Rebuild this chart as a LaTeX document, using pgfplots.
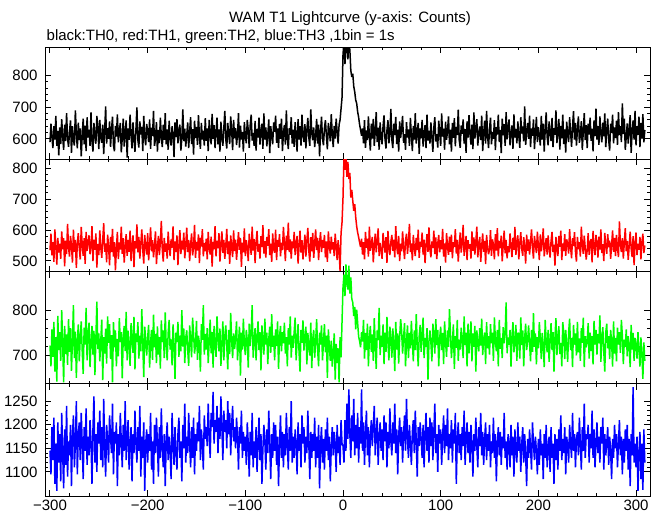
\documentclass[border=0pt]{standalone}
\usepackage{fontspec}
\setmainfont{Liberation Sans}
\usepackage{pgfplots}
\pgfplotsset{compat=1.18}
\usepackage{pgfplotstable}

% TH0 (black), 1 s bins, t = -300 ... 309
\pgfplotstableread[row sep=\\,header=false]{
590\\ 648\\ 605\\ 571\\ 640\\ 598\\ 672\\ 578\\ 625\\ 548\\
636\\ 584\\ 662\\ 607\\ 566\\ 645\\ 593\\ 681\\ 601\\ 575\\
622\\ 658\\ 556\\ 640\\ 597\\ 579\\ 690\\ 618\\ 570\\ 651\\
596\\ 633\\ 545\\ 611\\ 664\\ 583\\ 642\\ 562\\ 668\\ 604\\
629\\ 578\\ 683\\ 592\\ 560\\ 650\\ 610\\ 585\\ 672\\ 637\\
568\\ 660\\ 604\\ 588\\ 645\\ 552\\ 626\\ 702\\ 585\\ 634\\
600\\ 655\\ 575\\ 628\\ 670\\ 580\\ 561\\ 641\\ 607\\ 677\\
589\\ 624\\ 650\\ 558\\ 603\\ 664\\ 576\\ 620\\ 658\\ 541\\
633\\ 597\\ 676\\ 610\\ 570\\ 652\\ 601\\ 559\\ 630\\ 699\\
596\\ 573\\ 655\\ 614\\ 638\\ 562\\ 672\\ 606\\ 580\\ 647\\
624\\ 590\\ 661\\ 569\\ 635\\ 609\\ 688\\ 578\\ 600\\ 653\\
560\\ 628\\ 587\\ 667\\ 608\\ 574\\ 645\\ 597\\ 681\\ 583\\
630\\ 566\\ 657\\ 601\\ 579\\ 640\\ 614\\ 543\\ 652\\ 606\\
662\\ 586\\ 625\\ 645\\ 563\\ 602\\ 693\\ 593\\ 632\\ 576\\
611\\ 652\\ 571\\ 624\\ 668\\ 584\\ 631\\ 551\\ 657\\ 603\\
638\\ 581\\ 675\\ 607\\ 569\\ 650\\ 598\\ 626\\ 579\\ 665\\
594\\ 633\\ 562\\ 660\\ 612\\ 583\\ 679\\ 600\\ 643\\ 571\\
620\\ 667\\ 583\\ 630\\ 560\\ 654\\ 606\\ 578\\ 636\\ 688\\
598\\ 570\\ 650\\ 614\\ 584\\ 671\\ 627\\ 565\\ 660\\ 602\\
634\\ 581\\ 613\\ 681\\ 573\\ 642\\ 598\\ 622\\ 560\\ 653\\
610\\ 586\\ 660\\ 627\\ 572\\ 644\\ 676\\ 595\\ 619\\ 578\\
657\\ 563\\ 631\\ 604\\ 667\\ 582\\ 624\\ 648\\ 569\\ 680\\
598\\ 636\\ 577\\ 612\\ 661\\ 555\\ 640\\ 608\\ 583\\ 652\\
622\\ 673\\ 588\\ 633\\ 572\\ 647\\ 600\\ 664\\ 562\\ 617\\
644\\ 582\\ 690\\ 603\\ 568\\ 634\\ 613\\ 668\\ 585\\ 629\\
575\\ 653\\ 609\\ 560\\ 662\\ 598\\ 640\\ 579\\ 676\\ 612\\
590\\ 646\\ 570\\ 627\\ 666\\ 604\\ 578\\ 693\\ 619\\ 596\\
636\\ 574\\ 611\\ 663\\ 585\\ 645\\ 545\\ 623\\ 670\\ 600\\
580\\ 634\\ 659\\ 609\\ 567\\ 650\\ 626\\ 592\\ 678\\ 613\\
574\\ 641\\ 601\\ 664\\ 622\\ 585\\ 645\\ 660\\ 695\\ 730\\
865\\ 905\\ 835\\ 900\\ 895\\ 850\\ 905\\ 880\\ 815\\ 795\\
805\\ 765\\ 748\\ 722\\ 712\\ 685\\ 668\\ 645\\ 628\\ 610\\
633\\ 586\\ 659\\ 572\\ 627\\ 596\\ 671\\ 608\\ 563\\ 648\\
601\\ 663\\ 578\\ 622\\ 684\\ 590\\ 635\\ 566\\ 652\\ 606\\
583\\ 640\\ 674\\ 600\\ 570\\ 628\\ 659\\ 586\\ 617\\ 694\\
597\\ 571\\ 648\\ 612\\ 669\\ 584\\ 629\\ 560\\ 655\\ 603\\
634\\ 672\\ 588\\ 615\\ 566\\ 653\\ 604\\ 630\\ 578\\ 666\\
611\\ 562\\ 641\\ 598\\ 681\\ 585\\ 623\\ 650\\ 553\\ 633\\
602\\ 660\\ 576\\ 617\\ 643\\ 571\\ 676\\ 595\\ 626\\ 585\\
652\\ 606\\ 559\\ 636\\ 668\\ 592\\ 615\\ 573\\ 657\\ 620\\
578\\ 680\\ 607\\ 632\\ 566\\ 654\\ 597\\ 624\\ 671\\ 583\\
629\\ 560\\ 650\\ 603\\ 665\\ 577\\ 638\\ 612\\ 692\\ 596\\
572\\ 642\\ 616\\ 661\\ 585\\ 631\\ 556\\ 655\\ 604\\ 675\\
614\\ 582\\ 645\\ 568\\ 683\\ 601\\ 630\\ 662\\ 579\\ 621\\
639\\ 596\\ 673\\ 562\\ 617\\ 657\\ 585\\ 688\\ 610\\ 571\\
631\\ 667\\ 583\\ 622\\ 600\\ 659\\ 565\\ 637\\ 614\\ 676\\
590\\ 628\\ 555\\ 664\\ 611\\ 646\\ 578\\ 684\\ 599\\ 633\\
661\\ 580\\ 620\\ 642\\ 569\\ 677\\ 604\\ 631\\ 586\\ 655\\
609\\ 572\\ 668\\ 617\\ 639\\ 592\\ 702\\ 581\\ 624\\ 650\\
600\\ 673\\ 574\\ 633\\ 610\\ 661\\ 568\\ 619\\ 669\\ 590\\
637\\ 612\\ 579\\ 672\\ 598\\ 648\\ 560\\ 628\\ 683\\ 605\\
580\\ 655\\ 620\\ 593\\ 666\\ 574\\ 634\\ 613\\ 690\\ 587\\
622\\ 663\\ 566\\ 641\\ 602\\ 676\\ 584\\ 630\\ 557\\ 654\\
612\\ 590\\ 668\\ 621\\ 575\\ 639\\ 687\\ 598\\ 650\\ 579\\
630\\ 671\\ 588\\ 611\\ 656\\ 566\\ 624\\ 681\\ 596\\ 643\\
571\\ 648\\ 614\\ 667\\ 594\\ 632\\ 561\\ 658\\ 609\\ 695\\
598\\ 640\\ 581\\ 671\\ 616\\ 589\\ 651\\ 608\\ 680\\ 574\\
627\\ 664\\ 597\\ 563\\ 648\\ 619\\ 676\\ 586\\ 636\\ 603\\
657\\ 581\\ 684\\ 612\\ 640\\ 590\\ 712\\ 615\\ 664\\ 566\\
608\\ 649\\ 585\\ 632\\ 675\\ 556\\ 624\\ 658\\ 598\\ 688\\
580\\ 640\\ 613\\ 670\\ 574\\ 650\\ 601\\ 678\\ 589\\ 628\\
}\thzero

% TH1 (red)
\pgfplotstableread[row sep=\\,header=false]{
535\\ 588\\ 518\\ 561\\ 497\\ 602\\ 546\\ 488\\ 575\\ 527\\
556\\ 507\\ 596\\ 538\\ 574\\ 483\\ 566\\ 522\\ 620\\ 544\\
514\\ 581\\ 551\\ 495\\ 601\\ 530\\ 568\\ 478\\ 557\\ 590\\
541\\ 505\\ 610\\ 553\\ 517\\ 574\\ 491\\ 594\\ 533\\ 560\\
583\\ 522\\ 547\\ 613\\ 500\\ 569\\ 536\\ 589\\ 479\\ 555\\
519\\ 599\\ 544\\ 510\\ 567\\ 622\\ 530\\ 557\\ 496\\ 585\\
548\\ 486\\ 578\\ 529\\ 604\\ 514\\ 561\\ 470\\ 540\\ 594\\
506\\ 560\\ 537\\ 611\\ 523\\ 574\\ 495\\ 549\\ 587\\ 517\\
568\\ 530\\ 598\\ 500\\ 552\\ 583\\ 480\\ 564\\ 540\\ 618\\
528\\ 578\\ 508\\ 556\\ 602\\ 536\\ 492\\ 584\\ 546\\ 521\\
590\\ 502\\ 553\\ 609\\ 531\\ 567\\ 512\\ 548\\ 596\\ 490\\
542\\ 581\\ 519\\ 560\\ 630\\ 535\\ 498\\ 575\\ 530\\ 557\\
508\\ 595\\ 547\\ 516\\ 570\\ 543\\ 612\\ 503\\ 563\\ 529\\
583\\ 487\\ 551\\ 600\\ 522\\ 566\\ 537\\ 592\\ 509\\ 549\\
608\\ 529\\ 568\\ 500\\ 553\\ 589\\ 518\\ 544\\ 617\\ 510\\
562\\ 534\\ 586\\ 493\\ 575\\ 547\\ 603\\ 515\\ 558\\ 531\\
572\\ 505\\ 594\\ 543\\ 521\\ 579\\ 482\\ 562\\ 538\\ 613\\
515\\ 565\\ 542\\ 590\\ 498\\ 554\\ 596\\ 526\\ 568\\ 507\\
549\\ 604\\ 522\\ 563\\ 491\\ 583\\ 544\\ 513\\ 599\\ 532\\
569\\ 504\\ 548\\ 593\\ 536\\ 575\\ 481\\ 559\\ 528\\ 605\\
516\\ 567\\ 543\\ 500\\ 588\\ 551\\ 520\\ 611\\ 534\\ 571\\
493\\ 561\\ 597\\ 530\\ 555\\ 508\\ 580\\ 545\\ 616\\ 524\\
564\\ 511\\ 578\\ 549\\ 603\\ 519\\ 556\\ 497\\ 589\\ 538\\
527\\ 601\\ 503\\ 568\\ 546\\ 587\\ 515\\ 559\\ 535\\ 610\\
555\\ 500\\ 582\\ 536\\ 624\\ 529\\ 570\\ 508\\ 563\\ 541\\
594\\ 519\\ 556\\ 581\\ 492\\ 548\\ 598\\ 527\\ 567\\ 505\\
546\\ 585\\ 514\\ 564\\ 607\\ 533\\ 498\\ 577\\ 531\\ 591\\
510\\ 557\\ 602\\ 535\\ 575\\ 503\\ 559\\ 593\\ 529\\ 568\\
543\\ 584\\ 512\\ 563\\ 497\\ 596\\ 549\\ 524\\ 579\\ 537\\
561\\ 516\\ 588\\ 547\\ 503\\ 567\\ 530\\ 468\\ 590\\ 625\\
705\\ 838\\ 795\\ 845\\ 772\\ 820\\ 765\\ 785\\ 705\\ 730\\
695\\ 662\\ 684\\ 642\\ 612\\ 592\\ 577\\ 560\\ 545\\ 572\\
521\\ 561\\ 505\\ 594\\ 543\\ 572\\ 514\\ 611\\ 533\\ 556\\
578\\ 496\\ 549\\ 588\\ 528\\ 567\\ 605\\ 516\\ 558\\ 536\\
507\\ 591\\ 555\\ 527\\ 577\\ 494\\ 597\\ 544\\ 519\\ 562\\
584\\ 533\\ 569\\ 512\\ 613\\ 547\\ 522\\ 581\\ 500\\ 556\\
531\\ 596\\ 545\\ 506\\ 567\\ 588\\ 523\\ 561\\ 620\\ 529\\
557\\ 502\\ 584\\ 540\\ 516\\ 575\\ 535\\ 601\\ 510\\ 562\\
545\\ 592\\ 521\\ 569\\ 493\\ 550\\ 587\\ 530\\ 609\\ 537\\
512\\ 563\\ 542\\ 598\\ 522\\ 576\\ 506\\ 556\\ 584\\ 528\\
567\\ 538\\ 604\\ 514\\ 557\\ 495\\ 590\\ 546\\ 520\\ 579\\
530\\ 585\\ 509\\ 561\\ 545\\ 603\\ 524\\ 568\\ 498\\ 551\\
592\\ 527\\ 556\\ 617\\ 517\\ 548\\ 581\\ 503\\ 567\\ 540\\
554\\ 508\\ 596\\ 533\\ 576\\ 521\\ 562\\ 611\\ 512\\ 550\\
578\\ 497\\ 548\\ 589\\ 530\\ 565\\ 490\\ 584\\ 545\\ 522\\
537\\ 600\\ 517\\ 570\\ 553\\ 505\\ 587\\ 534\\ 606\\ 515\\
565\\ 542\\ 582\\ 499\\ 552\\ 598\\ 525\\ 568\\ 509\\ 548\\
528\\ 589\\ 549\\ 513\\ 575\\ 536\\ 610\\ 520\\ 559\\ 583\\
505\\ 556\\ 593\\ 538\\ 517\\ 577\\ 547\\ 492\\ 585\\ 533\\
570\\ 521\\ 561\\ 602\\ 542\\ 508\\ 581\\ 552\\ 526\\ 595\\
549\\ 503\\ 586\\ 531\\ 559\\ 605\\ 515\\ 546\\ 574\\ 521\\
583\\ 541\\ 511\\ 564\\ 594\\ 529\\ 553\\ 485\\ 578\\ 538\\
516\\ 581\\ 546\\ 598\\ 503\\ 557\\ 532\\ 587\\ 517\\ 570\\
556\\ 524\\ 603\\ 544\\ 509\\ 574\\ 548\\ 593\\ 530\\ 498\\
578\\ 538\\ 561\\ 514\\ 611\\ 550\\ 523\\ 582\\ 541\\ 505\\
535\\ 590\\ 520\\ 558\\ 571\\ 496\\ 597\\ 546\\ 519\\ 584\\
560\\ 511\\ 579\\ 537\\ 602\\ 526\\ 554\\ 500\\ 591\\ 547\\
523\\ 587\\ 544\\ 566\\ 507\\ 551\\ 599\\ 530\\ 575\\ 516\\
584\\ 541\\ 513\\ 628\\ 553\\ 529\\ 574\\ 508\\ 560\\ 606\\
531\\ 565\\ 504\\ 549\\ 595\\ 540\\ 513\\ 580\\ 487\\ 556\\
592\\ 519\\ 555\\ 536\\ 578\\ 505\\ 561\\ 588\\ 526\\ 550\\
}\thone

% TH2 (green)
\pgfplotstableread[row sep=\\,header=false]{
722\\ 676\\ 758\\ 697\\ 775\\ 664\\ 741\\ 642\\ 788\\ 712\\
752\\ 688\\ 801\\ 725\\ 640\\ 766\\ 703\\ 747\\ 679\\ 781\\
708\\ 761\\ 666\\ 734\\ 812\\ 694\\ 753\\ 650\\ 731\\ 769\\
687\\ 740\\ 776\\ 711\\ 659\\ 762\\ 724\\ 806\\ 689\\ 745\\
773\\ 674\\ 728\\ 766\\ 702\\ 755\\ 656\\ 737\\ 820\\ 714\\
749\\ 687\\ 731\\ 780\\ 645\\ 741\\ 704\\ 760\\ 682\\ 787\\
728\\ 770\\ 692\\ 745\\ 640\\ 774\\ 718\\ 756\\ 676\\ 737\\
698\\ 783\\ 730\\ 752\\ 649\\ 740\\ 766\\ 710\\ 797\\ 689\\
755\\ 721\\ 677\\ 772\\ 739\\ 706\\ 786\\ 669\\ 749\\ 730\\
774\\ 693\\ 744\\ 709\\ 803\\ 727\\ 652\\ 764\\ 735\\ 700\\
740\\ 768\\ 673\\ 729\\ 757\\ 690\\ 791\\ 718\\ 748\\ 683\\
765\\ 702\\ 741\\ 671\\ 778\\ 730\\ 756\\ 694\\ 796\\ 721\\
689\\ 750\\ 779\\ 713\\ 736\\ 678\\ 769\\ 726\\ 648\\ 751\\
730\\ 775\\ 697\\ 744\\ 709\\ 801\\ 720\\ 760\\ 683\\ 739\\
756\\ 713\\ 677\\ 767\\ 733\\ 696\\ 784\\ 749\\ 704\\ 725\\
777\\ 690\\ 744\\ 726\\ 664\\ 770\\ 735\\ 812\\ 702\\ 748\\
713\\ 761\\ 683\\ 732\\ 780\\ 705\\ 752\\ 673\\ 766\\ 727\\
697\\ 787\\ 739\\ 709\\ 760\\ 677\\ 728\\ 776\\ 689\\ 743\\
767\\ 721\\ 669\\ 757\\ 703\\ 795\\ 733\\ 694\\ 749\\ 714\\
740\\ 776\\ 689\\ 729\\ 764\\ 655\\ 751\\ 713\\ 782\\ 725\\
701\\ 757\\ 733\\ 673\\ 771\\ 721\\ 749\\ 812\\ 695\\ 736\\
761\\ 689\\ 740\\ 776\\ 712\\ 752\\ 667\\ 767\\ 729\\ 702\\
782\\ 724\\ 751\\ 681\\ 737\\ 764\\ 706\\ 792\\ 719\\ 744\\
689\\ 758\\ 721\\ 776\\ 670\\ 740\\ 766\\ 709\\ 752\\ 727\\
773\\ 704\\ 741\\ 676\\ 761\\ 724\\ 787\\ 695\\ 744\\ 717\\
753\\ 784\\ 689\\ 731\\ 770\\ 708\\ 664\\ 757\\ 728\\ 778\\
711\\ 740\\ 764\\ 680\\ 750\\ 721\\ 700\\ 773\\ 672\\ 736\\
757\\ 695\\ 730\\ 781\\ 713\\ 676\\ 751\\ 724\\ 767\\ 689\\
729\\ 770\\ 707\\ 744\\ 650\\ 758\\ 721\\ 688\\ 733\\ 675\\
703\\ 749\\ 646\\ 726\\ 683\\ 716\\ 640\\ 741\\ 696\\ 775\\
852\\ 880\\ 832\\ 903\\ 862\\ 847\\ 900\\ 838\\ 874\\ 826\\
818\\ 788\\ 808\\ 758\\ 802\\ 772\\ 742\\ 732\\ 718\\ 752\\
731\\ 779\\ 693\\ 750\\ 712\\ 771\\ 676\\ 740\\ 766\\ 708\\
747\\ 688\\ 783\\ 724\\ 670\\ 756\\ 734\\ 806\\ 701\\ 744\\
719\\ 769\\ 681\\ 751\\ 708\\ 786\\ 729\\ 689\\ 764\\ 738\\
695\\ 760\\ 724\\ 665\\ 775\\ 713\\ 749\\ 682\\ 740\\ 781\\
755\\ 704\\ 739\\ 772\\ 676\\ 729\\ 767\\ 694\\ 750\\ 716\\
777\\ 730\\ 687\\ 756\\ 712\\ 792\\ 724\\ 676\\ 743\\ 768\\
708\\ 748\\ 784\\ 694\\ 739\\ 719\\ 761\\ 646\\ 732\\ 756\\
728\\ 687\\ 771\\ 747\\ 704\\ 781\\ 723\\ 757\\ 676\\ 739\\
764\\ 712\\ 750\\ 681\\ 776\\ 731\\ 697\\ 756\\ 719\\ 803\\
748\\ 694\\ 729\\ 769\\ 670\\ 743\\ 717\\ 779\\ 688\\ 735\\
713\\ 762\\ 732\\ 694\\ 787\\ 723\\ 751\\ 676\\ 771\\ 705\\
739\\ 776\\ 687\\ 749\\ 719\\ 766\\ 664\\ 756\\ 728\\ 709\\
761\\ 722\\ 782\\ 701\\ 737\\ 751\\ 681\\ 774\\ 716\\ 743\\
702\\ 770\\ 727\\ 751\\ 688\\ 785\\ 734\\ 709\\ 757\\ 676\\
779\\ 715\\ 739\\ 694\\ 763\\ 727\\ 748\\ 818\\ 705\\ 740\\
724\\ 757\\ 675\\ 743\\ 774\\ 707\\ 731\\ 768\\ 688\\ 750\\
749\\ 693\\ 785\\ 723\\ 756\\ 676\\ 739\\ 771\\ 712\\ 731\\
767\\ 727\\ 687\\ 757\\ 708\\ 794\\ 719\\ 749\\ 680\\ 741\\
716\\ 774\\ 738\\ 692\\ 750\\ 723\\ 674\\ 779\\ 731\\ 707\\
757\\ 686\\ 731\\ 772\\ 712\\ 752\\ 664\\ 740\\ 783\\ 701\\
738\\ 765\\ 703\\ 728\\ 676\\ 774\\ 749\\ 692\\ 757\\ 723\\
686\\ 751\\ 782\\ 712\\ 739\\ 674\\ 768\\ 724\\ 749\\ 700\\
775\\ 707\\ 738\\ 688\\ 761\\ 728\\ 784\\ 674\\ 743\\ 718\\
731\\ 772\\ 693\\ 751\\ 710\\ 743\\ 680\\ 777\\ 724\\ 757\\
702\\ 748\\ 727\\ 789\\ 686\\ 739\\ 763\\ 708\\ 664\\ 751\\
771\\ 716\\ 743\\ 692\\ 757\\ 730\\ 675\\ 776\\ 704\\ 739\\
687\\ 762\\ 724\\ 752\\ 706\\ 779\\ 744\\ 681\\ 735\\ 719\\
758\\ 698\\ 743\\ 724\\ 674\\ 768\\ 713\\ 750\\ 688\\ 739\\
724\\ 693\\ 752\\ 712\\ 675\\ 740\\ 703\\ 648\\ 729\\ 688\\
}\thtwo

% TH3 (blue)
\pgfplotstableread[row sep=\\,header=false]{
1145\\ 1095\\ 1195\\ 1125\\ 1215\\ 1075\\ 1160\\ 1060\\ 1205\\ 1120\\
1180\\ 1080\\ 1225\\ 1140\\ 1065\\ 1190\\ 1115\\ 1240\\ 1090\\ 1165\\
1135\\ 1200\\ 1070\\ 1175\\ 1220\\ 1110\\ 1160\\ 1250\\ 1095\\ 1180\\
1205\\ 1125\\ 1225\\ 1160\\ 1085\\ 1195\\ 1145\\ 1235\\ 1115\\ 1175\\
1135\\ 1210\\ 1165\\ 1075\\ 1190\\ 1260\\ 1120\\ 1180\\ 1100\\ 1205\\
1160\\ 1230\\ 1125\\ 1195\\ 1110\\ 1255\\ 1150\\ 1090\\ 1200\\ 1165\\
1120\\ 1220\\ 1175\\ 1140\\ 1245\\ 1095\\ 1185\\ 1160\\ 1205\\ 1070\\
1180\\ 1135\\ 1225\\ 1165\\ 1110\\ 1200\\ 1145\\ 1250\\ 1125\\ 1175\\
1210\\ 1105\\ 1160\\ 1195\\ 1080\\ 1180\\ 1140\\ 1230\\ 1160\\ 1120\\
1195\\ 1145\\ 1240\\ 1090\\ 1175\\ 1130\\ 1205\\ 1060\\ 1160\\ 1190\\
1120\\ 1180\\ 1145\\ 1225\\ 1105\\ 1165\\ 1075\\ 1200\\ 1140\\ 1215\\
1160\\ 1090\\ 1195\\ 1130\\ 1235\\ 1150\\ 1110\\ 1180\\ 1070\\ 1165\\
1205\\ 1125\\ 1175\\ 1145\\ 1085\\ 1225\\ 1160\\ 1115\\ 1195\\ 1140\\
1105\\ 1180\\ 1215\\ 1130\\ 1165\\ 1080\\ 1200\\ 1150\\ 1245\\ 1120\\
1175\\ 1140\\ 1225\\ 1160\\ 1110\\ 1195\\ 1130\\ 1215\\ 1095\\ 1180\\
1145\\ 1205\\ 1165\\ 1240\\ 1125\\ 1190\\ 1160\\ 1105\\ 1220\\ 1170\\
1195\\ 1155\\ 1245\\ 1180\\ 1130\\ 1225\\ 1195\\ 1270\\ 1160\\ 1210\\
1185\\ 1240\\ 1140\\ 1215\\ 1170\\ 1260\\ 1195\\ 1125\\ 1230\\ 1185\\
1210\\ 1150\\ 1250\\ 1180\\ 1225\\ 1135\\ 1200\\ 1240\\ 1165\\ 1195\\
1150\\ 1215\\ 1175\\ 1105\\ 1195\\ 1160\\ 1230\\ 1130\\ 1185\\ 1145\\
1175\\ 1115\\ 1205\\ 1160\\ 1090\\ 1185\\ 1135\\ 1225\\ 1110\\ 1165\\
1130\\ 1195\\ 1100\\ 1160\\ 1215\\ 1125\\ 1180\\ 1075\\ 1150\\ 1200\\
1165\\ 1105\\ 1190\\ 1140\\ 1230\\ 1160\\ 1085\\ 1180\\ 1130\\ 1205\\
1145\\ 1200\\ 1115\\ 1175\\ 1070\\ 1160\\ 1220\\ 1130\\ 1185\\ 1110\\
1180\\ 1135\\ 1225\\ 1160\\ 1105\\ 1195\\ 1145\\ 1250\\ 1120\\ 1175\\
1130\\ 1190\\ 1160\\ 1095\\ 1205\\ 1145\\ 1180\\ 1110\\ 1220\\ 1160\\
1195\\ 1120\\ 1175\\ 1140\\ 1230\\ 1160\\ 1085\\ 1185\\ 1130\\ 1180\\
1145\\ 1215\\ 1110\\ 1175\\ 1130\\ 1200\\ 1065\\ 1160\\ 1195\\ 1120\\
1170\\ 1105\\ 1190\\ 1145\\ 1215\\ 1125\\ 1175\\ 1080\\ 1155\\ 1195\\
1135\\ 1185\\ 1160\\ 1100\\ 1200\\ 1140\\ 1175\\ 1115\\ 1210\\ 1160\\
1155\\ 1120\\ 1210\\ 1145\\ 1245\\ 1170\\ 1275\\ 1180\\ 1130\\ 1220\\
1165\\ 1255\\ 1135\\ 1200\\ 1150\\ 1225\\ 1120\\ 1195\\ 1160\\ 1275\\
1145\\ 1205\\ 1115\\ 1185\\ 1230\\ 1135\\ 1195\\ 1110\\ 1175\\ 1210\\
1155\\ 1195\\ 1240\\ 1135\\ 1185\\ 1215\\ 1115\\ 1175\\ 1205\\ 1145\\
1190\\ 1125\\ 1220\\ 1165\\ 1205\\ 1110\\ 1185\\ 1150\\ 1235\\ 1165\\
1135\\ 1205\\ 1160\\ 1245\\ 1140\\ 1190\\ 1095\\ 1175\\ 1215\\ 1155\\
1195\\ 1120\\ 1180\\ 1220\\ 1145\\ 1255\\ 1170\\ 1130\\ 1200\\ 1160\\
1115\\ 1185\\ 1210\\ 1140\\ 1230\\ 1165\\ 1090\\ 1195\\ 1155\\ 1205\\
1170\\ 1130\\ 1200\\ 1110\\ 1180\\ 1225\\ 1145\\ 1195\\ 1120\\ 1215\\
1155\\ 1205\\ 1125\\ 1185\\ 1245\\ 1140\\ 1180\\ 1100\\ 1200\\ 1160\\
1190\\ 1115\\ 1175\\ 1220\\ 1140\\ 1200\\ 1155\\ 1235\\ 1125\\ 1180\\
1150\\ 1210\\ 1120\\ 1190\\ 1160\\ 1225\\ 1075\\ 1170\\ 1205\\ 1140\\
1180\\ 1125\\ 1195\\ 1155\\ 1230\\ 1115\\ 1170\\ 1205\\ 1140\\ 1185\\
1120\\ 1200\\ 1160\\ 1090\\ 1180\\ 1145\\ 1215\\ 1155\\ 1110\\ 1195\\
1155\\ 1225\\ 1135\\ 1185\\ 1115\\ 1170\\ 1205\\ 1125\\ 1180\\ 1145\\
1200\\ 1110\\ 1165\\ 1140\\ 1215\\ 1130\\ 1180\\ 1080\\ 1160\\ 1195\\
1135\\ 1185\\ 1115\\ 1175\\ 1150\\ 1225\\ 1130\\ 1165\\ 1105\\ 1180\\
1160\\ 1110\\ 1200\\ 1135\\ 1175\\ 1090\\ 1190\\ 1145\\ 1120\\ 1205\\
1145\\ 1175\\ 1100\\ 1160\\ 1195\\ 1120\\ 1180\\ 1135\\ 1070\\ 1170\\
1130\\ 1190\\ 1150\\ 1105\\ 1205\\ 1160\\ 1125\\ 1175\\ 1145\\ 1095\\
1170\\ 1115\\ 1190\\ 1135\\ 1160\\ 1085\\ 1180\\ 1130\\ 1200\\ 1110\\
1150\\ 1175\\ 1100\\ 1195\\ 1130\\ 1160\\ 1075\\ 1180\\ 1125\\ 1170\\
1105\\ 1190\\ 1145\\ 1220\\ 1125\\ 1170\\ 1140\\ 1195\\ 1095\\ 1175\\
1155\\ 1120\\ 1200\\ 1160\\ 1130\\ 1225\\ 1145\\ 1180\\ 1110\\ 1170\\
1185\\ 1135\\ 1215\\ 1160\\ 1105\\ 1195\\ 1145\\ 1245\\ 1130\\ 1180\\
1170\\ 1200\\ 1120\\ 1180\\ 1150\\ 1230\\ 1130\\ 1190\\ 1110\\ 1160\\
1205\\ 1140\\ 1175\\ 1120\\ 1195\\ 1160\\ 1215\\ 1105\\ 1180\\ 1135\\
1160\\ 1195\\ 1115\\ 1175\\ 1145\\ 1085\\ 1170\\ 1130\\ 1200\\ 1150\\
1180\\ 1110\\ 1160\\ 1210\\ 1135\\ 1175\\ 1095\\ 1170\\ 1120\\ 1190\\
1145\\ 1200\\ 1105\\ 1170\\ 1070\\ 1180\\ 1135\\ 1280\\ 1120\\ 1160\\
1110\\ 1175\\ 1060\\ 1140\\ 1185\\ 1085\\ 1160\\ 1062\\ 1190\\ 1120\\
}\ththree

\pgfplotsset{
  panel/.style={
    scale only axis,
    width=605pt, height=112.25pt,
    anchor=north west,
    xmin=-305.1, xmax=314.3,
    xtick={-300,-200,-100,0,100,200,300},
    minor x tick num=4,
    minor y tick num=4,
    xticklabels={},
    tick align=inside,
    major tick length=6pt,
    minor tick length=3pt,
    every tick/.style={black, line width=1pt},
    axis line style={line width=0.9pt},
    tick label style={font=\fontsize{15}{15}\selectfont},
    yticklabel style={xshift=-4pt},
    /pgf/number format/assume math mode=true,
    /pgf/number format/1000 sep={},
    clip=true,
  },
  curve/.style={line width=1.5pt, mark=none, line join=bevel},
}

\begin{document}
\begin{tikzpicture}
\useasboundingbox (0,0) rectangle (661pt,-515pt);
\node[anchor=base, inner sep=0pt, font=\fontsize{15}{15}\selectfont] at (350pt,-22.5pt) {WAM T1 Lightcurve (y-axis: Counts)};
\node[anchor=base west, inner sep=0pt, font=\fontsize{15}{15}\selectfont] at (46.5pt,-40.5pt) {black:TH0, red:TH1, green:TH2, blue:TH3 ,1bin = 1s};

\begin{axis}[panel, at={(45pt,-47pt)}, ymin=536, ymax=889, ytick={600,700,800}]
\addplot[curve, black] table[x expr=\coordindex-300, y index=0] {\thzero};
\end{axis}

\begin{axis}[panel, at={(45pt,-159.25pt)}, ymin=466, ymax=829, ytick={500,600,700,800}]
\addplot[curve, red] table[x expr=\coordindex-300, y index=0] {\thone};
\end{axis}

\begin{axis}[panel, at={(45pt,-271.5pt)}, ymin=637, ymax=887, ytick={700,800}, clip=false]
\addplot[curve, green] table[x expr=\coordindex-300, y index=0] {\thtwo};
\end{axis}

\begin{axis}[panel, at={(45pt,-383.75pt)}, ymin=1049, ymax=1287, ytick={1100,1150,1200,1250},
  xticklabels={−300,−200,−100,0,100,200,300}]
\addplot[curve, blue] table[x expr=\coordindex-300, y index=0] {\ththree};
\end{axis}
\end{tikzpicture}
\end{document}
